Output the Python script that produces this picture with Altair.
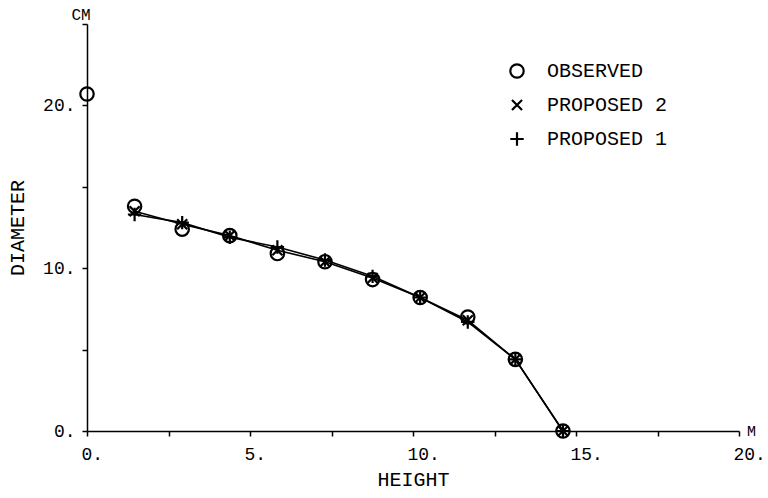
import altair as alt
import pandas as pd

# Stem taper: measured diameters vs. two proposed taper curves
obs_height = [0.0, 1.46, 2.92, 4.38, 5.84, 7.30, 8.76, 10.22, 11.68, 13.14, 14.60]
obs_diam = [20.7, 13.8, 12.4, 12.0, 10.9, 10.4, 9.3, 8.2, 7.0, 4.4, 0.0]

prop_height = [1.46, 2.92, 4.38, 5.84, 7.30, 8.76, 10.22, 11.68, 13.14, 14.60]
prop2_diam = [13.5, 12.7, 12.0, 11.1, 10.4, 9.4, 8.2, 6.8, 4.4, 0.0]
prop1_diam = [13.3, 12.8, 11.9, 11.3, 10.5, 9.5, 8.2, 6.7, 4.4, 0.0]

series_names = ["OBSERVED", "PROPOSED 2", "PROPOSED 1"]
series_shapes = [
    "circle",
    "M-0.75,-0.75L0.75,0.75M0.75,-0.75L-0.75,0.75",
    "M-1,0L1,0M0,-1L0,1",
]

rows = []
for h, d in zip(obs_height, obs_diam):
    rows.append({"height": h, "diameter": d, "series": "OBSERVED"})
for h, d in zip(prop_height, prop2_diam):
    rows.append({"height": h, "diameter": d, "series": "PROPOSED 2"})
for h, d in zip(prop_height, prop1_diam):
    rows.append({"height": h, "diameter": d, "series": "PROPOSED 1"})
df = pd.DataFrame(rows)

FONT = "Liberation Mono"
PLOT_W, PLOT_H = 652, 407

x_scale = alt.Scale(domain=[0, 20], nice=False, zero=False)
y_scale = alt.Scale(domain=[0, 25], nice=False, zero=False)

x_axis = alt.Axis(
    title="HEIGHT",
    values=[i * 2.5 for i in range(9)],
    labelExpr="datum.value % 5 == 0 ? format(datum.value, 'd') + '.' : ''",
    labelAlign="left",
    labelOffset=-6,
    labelPadding=9,
    labelFontSize=18,
    titleY=48,
    titleBaseline="middle",
    grid=False,
)
y_axis = alt.Axis(
    title="DIAMETER",
    values=[0, 5, 10, 15, 20, 25],
    labelExpr="datum.value % 10 == 0 ? format(datum.value, 'd') + '.' : ''",
    labelPadding=7,
    labelFontSize=18,
    titleAngle=270,
    titleX=-70,
    titleY=PLOT_H / 2,
    titleAlign="center",
    titleBaseline="middle",
    grid=False,
)

x_enc = alt.X("height:Q", scale=x_scale, axis=x_axis)
y_enc = alt.Y("diameter:Q", scale=y_scale, axis=y_axis)

lines = (
    alt.Chart(df)
    .transform_filter(alt.datum.series != "OBSERVED")
    .mark_line(color="black", strokeWidth=1.6)
    .encode(x=x_enc, y=y_enc, detail="series:N")
)

points = (
    alt.Chart(df)
    .mark_point(filled=False, color="black", strokeWidth=2.2, size=180, opacity=1)
    .encode(
        x=x_enc,
        y=y_enc,
        shape=alt.Shape(
            "series:N",
            scale=alt.Scale(domain=series_names, range=series_shapes),
            legend=alt.Legend(
                title=None,
                orient="none",
                legendX=420,
                legendY=37,
                symbolStrokeColor="black",
                symbolFillColor="transparent",
                symbolStrokeWidth=2.2,
                symbolSize=180,
                labelFont=FONT,
                labelFontSize=20,
                labelColor="black",
                labelOffset=20,
                rowPadding=12,
            ),
        ),
    )
)

units = pd.DataFrame(
    {"height": [0.0, 20.0], "diameter": [25.0, 0.0], "unit": ["CM", "M"]}
)
unit_cm = (
    alt.Chart(units[units.unit == "CM"])
    .mark_text(font=FONT, fontSize=16, color="black", align="center", baseline="bottom", dy=-1, dx=-6)
    .encode(x=x_enc, y=y_enc, text="unit:N")
)
unit_m = (
    alt.Chart(units[units.unit == "M"])
    .mark_text(font=FONT, fontSize=15, color="black", align="left", baseline="middle", dx=8, dy=0)
    .encode(x=x_enc, y=y_enc, text="unit:N")
)

chart = (
    alt.layer(lines, points, unit_cm, unit_m)
    .properties(
        width=PLOT_W,
        height=PLOT_H,
        autosize=alt.AutoSizeParams(type="none"),
        padding={"left": 87, "top": 24, "right": 768 - 87 - PLOT_W, "bottom": 498 - 24 - PLOT_H},
        background="white",
    )
    .configure_view(stroke=None)
    .configure_axis(
        domainColor="black",
        domainWidth=1.5,
        tickColor="black",
        tickWidth=1.5,
        tickSize=5,
        labelFont=FONT,
        labelColor="black",
        titleFont=FONT,
        titleFontSize=20,
        titleFontWeight="normal",
        titleColor="black",
    )
)

chart.save("out.html", embed_options={"renderer": "svg", "actions": False})
